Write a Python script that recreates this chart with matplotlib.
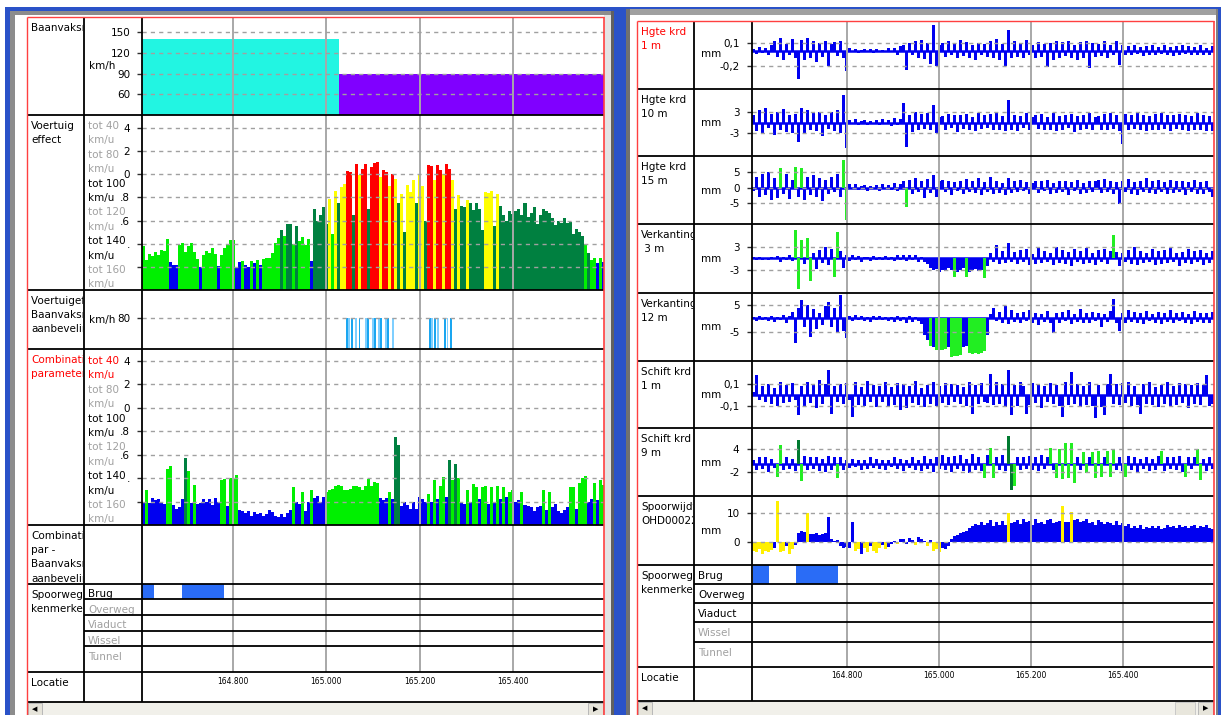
import numpy as np
import matplotlib
matplotlib.use("Agg")
import matplotlib.pyplot as plt
from matplotlib.patches import Rectangle
from matplotlib.transforms import Bbox

W, H = 1221, 715
plt.rcParams["font.family"] = ["DejaVu Sans"]

# ---------------------------------------------------------------- data
LOC_TICKS = [164.8, 165.0, 165.2, 165.4]
LOC_LABELS = ["164.800", "165.000", "165.200", "165.400"]
LEFT_XLIM = (164.604, 165.596)
RIGHT_XLIM = (164.5935, 165.5978)
LEFT_STEP = 0.00645    # km per sample, left window
RIGHT_STEP = 0.00652   # km per sample, right window

# Baanvaksnelheid per section (km/h)
SPEED_FROM = [164.604, 165.026]
SPEED_TO = [165.026, 165.596]
SPEED_KMH = [140, 90]

# Brug sections (km)
BRUG_FROM = [164.596, 164.690]
BRUG_TO = [164.630, 164.780]

# Voertuigeffect - Baanvaksnelheid aanbeveling (80 km/h marks)
AANB_KM = [165.044, 165.049, 165.055, 165.064, 165.071, 165.084, 165.090,
           165.100, 165.104, 165.113, 165.118, 165.128, 165.132, 165.142,
           165.222, 165.227, 165.234, 165.240, 165.254, 165.260, 165.267]
AANB_KMH = 80

# Voertuig effect, hundredths, with speed class per sample
VOERTUIG = [38, 26, 31, 29, 33, 30, 35, 34, 44, 24, 22, 22, 39, 41, 33, 38, 41, 33,
            27, 20, 30, 34, 32, 36, 31, 21, 30, 36, 40, 43, 43, 19, 24, 25, 22, 20,
            25, 23, 26, 22, 27, 28, 28, 32, 41, 45, 52, 47, 57, 57, 40, 55, 42, 46,
            39, 44, 25, 70, 60, 65, 72, 57, 79, 48, 86, 75, 89, 92, 103, 102, 65,
            109, 99, 105, 109, 70, 106, 110, 111, 98, 104, 102, 90, 100, 96, 75,
            83, 50, 91, 85, 95, 75, 99, 90, 60, 108, 107, 95, 108, 104, 100, 109,
            105, 95, 70, 82, 73, 72, 78, 75, 69, 75, 70, 52, 85, 84, 86, 55, 83,
            73, 65, 60, 68, 66, 68, 70, 65, 75, 63, 67, 72, 57, 65, 70, 68, 67, 62,
            56, 60, 58, 62, 58, 59, 48, 53, 50, 47, 40, 32, 26, 28, 23, 28, 24]
VOERTUIG_CLS = ("LLLLLLLLL" "BBB" "LLLLLL" "LB" "LLLLL" "B" "LLLLL" "BBLBBLB" "LBL"
                "LLLLL" "DLDDLD" "LLLLB" "DDDDD" "YLYDYY" "RRDRYRRDR" "RRYRRYRYD"
                "YDYYYDYYD" "RRYRRYRRY" "DYDDYDD" "DDDYYYD" "YDDDDDD" "DDDDDDD"
                "DDDDDDD" "DDDDDDD" "DLD" "LLBLB")

# Combinatie parameters, hundredths
COMBI = [20, 30, 19, 23, 21, 22, 20, 18, 48, 50, 17, 14, 15, 22, 57, 46, 19, 34,
         18, 19, 22, 20, 22, 17, 23, 20, 38, 39, 16, 40, 39, 43, 13, 12, 10, 12, 8,
         11, 9, 10, 8, 9, 13, 11, 8, 7, 9, 7, 10, 13, 32, 20, 18, 28, 12, 20, 30,
         23, 25, 20, 24, 28, 30, 31, 33, 34, 33, 30, 30, 31, 33, 33, 32, 30, 33,
         39, 33, 37, 36, 23, 21, 23, 28, 22, 75, 68, 16, 20, 17, 14, 20, 14, 24,
         22, 20, 26, 20, 38, 22, 33, 41, 24, 55, 38, 52, 40, 20, 18, 30, 20, 35,
         32, 22, 32, 33, 18, 32, 20, 33, 22, 32, 24, 28, 30, 20, 21, 28, 17, 16,
         15, 12, 15, 16, 30, 13, 28, 15, 18, 12, 10, 13, 15, 32, 32, 14, 36, 40,
         42, 20, 22, 36, 21, 38, 34]
COMBI_CLS = ("BLBBBBBB" "LL" "BBBB" "D" "L" "BL" "BBBBBBBB" "LL" "B" "LLL"
             "BBBBBBBBBBBBBBBBBB" "LB" "BLBBL" "BBBB" "LLL" "LLLLLLLLLLLLL" "LL"
             "BBBL" "B" "DD" "BBBBBB" "BBB" "LBLBLLBDL" "DL" "BBLBLLBLLBLBLBLBL"
             "LBBLBBBBBBLBLBBBBBB" "LLBLL" "LBBLBLL")

# Right window signals
HGTE_1M = [2, -4, 5, -3, 4, -6, 8, 12, -8, 17, -12, 9, -6, 15, -10, -37, 14, -12,
           16, -9, 12, -15, 10, -8, 13, -20, 9, 11, -7, 12, -10, -27, 3, -2, 2, -3,
           1, 2, -1, 2, -3, 2, -1, 1, -2, 3, -2, 4, -5, 6, 8, -25, 10, -6, 12, -9,
           14, -11, 10, -18, 33, -20, 8, 10, -8, 12, -6, 9, -10, 14, -7, 11, -9, 8,
           -12, 10, -6, 9, -8, 12, -10, 15, -12, 9, -20, 27, -10, 12, -8, 10, -9,
           14, -6, 8, -10, 11, -8, 9, -21, 10, -12, 13, -9, 11, -7, 12, -10, 8,
           -12, 11, -9, 12, -23, 10, -8, 9, -7, 12, -10, 8, -6, 13, -19, 7, -5, 6,
           -6, 8, -4, 5, -7, 6, -5, 7, -6, 5, -4, 8, -6, 5, -7, 6, -5, 7, -4, 6, -6,
           5, -5, 7, -6, 4, -5, 6]  # hundredths of mm
HGTE_10M = [20, -25, 35, -30, 40, -15, 25, -35, 30, -20, 38, -28, 20, -30, 25, -55,
            42, -30, 35, -20, 28, -25, 30, -38, 22, -18, 30, -25, 35, -30, 79, -74,
            8, -5, 10, -6, 4, 7, -8, 5, -4, 6, -7, 9, -5, 8, -10, 12, -8, 10, 55,
            -70, 20, -28, 30, -22, 25, -18, 28, -20, 50, -30, 15, 18, -20, 25, -15,
            22, -28, 20, -18, 25, -22, 15, -25, 28, -18, 20, -15, 25, -20, 30, -22,
            18, -25, 64, -20, 22, -25, 18, -15, 28, -20, 15, 20, -18, 25, -22, 15,
            -20, 28, -25, 18, -22, 20, -15, 25, -28, 18, -20, 22, -18, 26, -20, 15,
            18, -22, 25, -20, 28, -18, 22, -25, -60, 25, -20, 22, -18, 26, -22, 20,
            -25, 18, -20, 25, -22, 28, -18, 20, -24, 22, -18, 25, -20, 22, -24, 18,
            -20, 26, -22, 20, -25, 18, -24]  # tenths of mm
HGTE_15M = [-10, 35, -30, 45, -25, 50, -40, 30, -35, 64, -20, 45, -38, 25, 67, -30,
            64, -40, 35, -25, 40, -30, 30, -45, 25, -20, 35, -15, 45, -30, 89, -105,
            10, -6, 12, -8, 5, 9, -10, 6, -5, 8, -12, 10, -6, 9, -8, 14, -10, 12, 20,
            -65, 25, -20, 30, -15, 22, -35, 28, -18, 40, -30, 20, 25, -15, 20, -25,
            18, -12, 22, -20, 28, -15, 20, -18, 30, -25, 18, -15, 35, -20, 22, -18,
            15, -25, 30, -18, 20, -15, 25, -12, 18, -20, 15, 22, -18, 20, -12, 25,
            -20, 15, -18, 22, -15, 20, -25, 18, -12, 24, -20, 16, -18, 22, -15, 20,
            25, -18, 28, -15, 22, -20, 18, -54, 22, -15, 28, -20, 18, -25, 22, -16,
            30, -18, 20, -22, 25, -15, 18, -20, 26, -18, 22, -15, 20, -24, 18, -16,
            25, -20, 18, -22, 20, -15, -30]
HGTE_15M_GREEN = [9, 14, 16, 30, 31, 51]
VERK_3M = [3, -4, 5, -3, 2, -5, 4, -2, 6, -8, 5, -3, 10, -6, 74, -80, 48, -15, 53,
           -60, 15, -28, 22, -12, 30, -18, 25, -47, 70, 20, -25, 8, -6, 10, -4, 6,
           -8, 5, 3, -6, 7, -4, 5, -3, 6, -5, 4, -7, 8, -5, 10, -6, 8, -4, 9, -8, 5,
           -10, -15, -25, -30, -28, -35, -30, -32, -25, -30, -47, -34, -30, -26,
           -49, -35, -30, -28, -33, -30, -52, -20, 15, -10, 35, -15, 20, -12, 40,
           -8, 18, -15, 22, -10, 25, -18, 12, -15, 28, -12, 20, -10, 15, -18, 30,
           -12, 22, -15, 18, -20, 25, -10, 20, -15, 28, -12, 15, -18, 22, -10, 25,
           -15, 20, 61, 18, -20, 15, -10, 22, -15, 30, -18, 20, -12, 15, -10, 25,
           -18, 20, -15, 22, -12, 28, -10, 15, -20, 18, -12, 25, -15, 20, -10, 22,
           -18, 15, -12, 20]
VERK_3M_GREEN = [14, 15, 16, 18, 19, 27, 28, 67, 71, 77, 120]
VERK_12M = [5, -8, 10, -6, 4, -10, 8, -12, 6, -5, 12, -15, 8, 25, -92, 40, 68, -30,
            50, -67, 35, -40, 20, -25, 45, 62, -30, 40, -50, 87, -45, -73, 10, -8,
            12, -6, 8, -10, 5, -12, 8, -6, 10, -5, 7, -9, 6, -12, 8, -10, 5, -15, 8,
            -12, 6, -10, -20, -60, -80, -100, -104, -117, -115, -118, -112, -105,
            -141, -138, -140, -135, -105, -100, -129, -132, -128, -130, -126, -120,
            -60, 15, 40, -10, 25, -15, 45, -20, 30, -12, 20, -18, 25, -10, 30, -15,
            20, -25, 18, -12, 28, -15, -55, 22, -18, 25, -10, 30, -20, 15, -12, 35,
            -18, 20, -15, 25, -10, 22, -30, 18, -12, 28, 72, -15, -45, 20, -18, 30,
            -12, 25, -15, 22, -20, 28, -10, 18, -15, 25, -22, 20, -12, 30, -18, 22,
            -10, 25, -15, 18, -20, 28, -12, 20, -15, 22, -18, 25]
VERK_12M_GREEN = [59, 61, 62, 63, 64, 66, 67, 68, 69, 72, 73, 74, 75, 76, 77]
SCHIFT_1M = [3, 18, -5, 8, -6, 10, -8, 6, -10, 12, -7, 9, -6, 11, -5, -18, 8, -10,
             12, -7, 9, -12, 14, -8, 10, 23, -17, 8, -6, 10, -8, 11, -5, -20, 12, -9,
             7, -10, 13, -6, 9, -11, 8, -6, 12, -10, 7, -9, 11, -14, 10, -12, 8, -7,
             13, -9, 6, -11, 9, -8, 12, -10, 8, -7, 11, -9, 10, -6, 9, -8, 7, -10,
             12, -17, 9, -8, 11, -6, -7, 19, -9, 12, -8, 10, -11, 23, -18, 9, -10,
             12, 8, -17, -9, 11, -7, 10, -12, 8, -6, 11, -8, 9, -10, -20, 12, -9, 21,
             -8, 10, -11, 8, -9, 12, -10, -21, 9, -11, -18, 10, 19, -8, 10, -9, 11,
             -7, 12, -10, 8, -9, -17, 10, -8, 12, -9, 7, -11, 9, -8, 12, -10, 8, -9,
             11, -7, 10, -12, 9, -8, 11, -9, 9, 18, -10, -8]  # hundredths of mm
SCHIFT_9M = [10, -15, 20, -12, 18, -20, 15, -10, -32, 50, -15, 20, -12, 15, -18, 63,
             -45, 22, -15, 18, -12, 20, -18, 15, -20, 22, -15, 18, -37, 20, -15, 12,
             -10, 15, -8, 12, -15, 10, -12, 18, -10, 15, -12, 10, -15, 12, -8, 18,
             -12, 15, -18, 12, -10, 20, -15, 12, -18, 22, -12, 15, -20, 18, -12, 25,
             -15, 18, -20, 22, -12, 25, -18, 15, -22, 28, -15, 20, -18, -37, 25, 42,
             -37, 20, -15, 25, -18, 74, -67, -58, 20, -15, 18, -12, 22, -15, 20, -18,
             25, -12, 18, 42, -15, -37, 40, -39, 57, -37, 55, -50, 20, -15, 33, -24,
             18, 33, -37, 36, -32, 20, 36, -32, 37, -15, 20, -18, -32, 22, -15, 18,
             -20, 15, -12, 20, -18, 15, -15, 22, 36, -18, 20, -12, 18, -15, 22, -20,
             -32, 18, -12, 20, 39, -41, 15, -18, 20, -12]
SCHIFT_9M_GREEN = [8, 9, 16, 28, 77, 79, 80, 87, 99, 101, 102, 103, 104, 105, 106,
                   107, 110, 111, 113, 114, 115, 116, 118, 119, 120, 124, 136, 144,
                   148, 149]
SCHIFT_9M_DARK = [15, 85, 86]
SPOORWIJDTE = [-30, -35, -25, -40, -30, -35, -28, -20, 141, -35, -30, -15, -40, -25,
               -10, 30, 38, 35, 101, 28, 28, 30, 25, 27, 30, 85, 10, 5, 8, -15, -20,
               -18, -22, 70, -30, -25, -40, -20, -35, -15, -30, -38, -20, -10, -25,
               -18, -5, 5, -8, 10, 12, -5, 15, 8, -10, 18, 10, 5, -15, 8, -30, -25,
               -35, -20, -25, -15, 10, 20, 25, 30, 35, 40, 50, 55, 62, 58, 70, 60, 65,
               75, 55, 68, 60, 72, 58, 99, 65, 70, 75, 62, 80, 68, 72, 60, 78, 65, 70,
               62, 75, 80, 65, 70, 72, 125, 70, 68, 105, 75, 80, 68, 72, 78, 65, 70,
               60, 75, 68, 62, 70, 65, 58, 72, 60, 66, 55, 62, 50, 55, 48, 58, 45, 52,
               50, 56, 48, 54, 45, 50, 58, 52, 55, 48, 60, 52, 56, 50, 54, 60, 48, 55,
               52, 58, 50, 45]
SPOORWIJDTE_YELLOW = [0, 1, 2, 3, 4, 5, 6, 8, 9, 10, 12, 13, 18, 34, 35, 37, 38, 40,
                      41, 42, 44, 48, 54, 58, 60, 61, 62, 85, 103, 106]

# ---------------------------------------------------------------- colours
BLUE = "#0000F0"
LIME = "#00F000"
DARK = "#008040"
YELLOW = "#FFFF00"
RED = "#FF0000"
CLS_COLOR = {"B": BLUE, "L": LIME, "D": DARK, "Y": YELLOW, "R": RED}
GRAY_TXT = "#A0A0A0"
WIN_BLUE = "#2A52C8"

fig = plt.figure(figsize=(W / 100, H / 100), dpi=100)


def page_axes(z):
    a = fig.add_axes([0, 0, 1, 1], zorder=z)
    a.set_xlim(0, W)
    a.set_ylim(H, 0)
    a.axis("off")
    return a


bg = page_axes(0)
ov = page_axes(10)


def box(x0, y0, x1, y1, color, ec="none", lw=0, ax=bg):
    ax.add_patch(Rectangle((x0, y0), x1 - x0, y1 - y0, facecolor=color,
                           edgecolor=ec, linewidth=lw))


def frac(x0, y0, x1, y1):
    return [x0 / W, 1 - y1 / H, (x1 - x0) / W, (y1 - y0) / H]


def track(x0, y0, x1, y1, xlim, ylim=(0, 1)):
    ax = fig.add_axes(frac(x0, y0, x1, y1), zorder=1)
    ax.set_xlim(xlim)
    ax.set_ylim(ylim)
    for s in ax.spines.values():
        s.set_visible(False)
    ax.set_xticks(LOC_TICKS)
    ax.tick_params(axis="x", length=0, labelbottom=False)
    ax.xaxis.grid(True, color="#A8A8A8", linewidth=1.4)
    ax.set_yticks([])
    ax.set_axisbelow(False)
    return ax


def yticks(ax, ticks, labels, pad):
    ax.set_yticks(ticks, labels)
    ax.tick_params(axis="y", length=3.5, width=1, pad=pad, labelsize=7.5,
                   color="#303030")
    ax.yaxis.grid(True, color="#A0A0A0", linestyle=(0, (3, 3)), linewidth=1)


def label(x, y, s, color="black", clip=None, size=7.5, ha="left"):
    t = ov.text(x, y, s, color=color, fontsize=size, ha=ha, va="center", zorder=3)
    if clip is not None:
        cx0, cy0, cx1, cy1 = clip
        t.set_clip_box(Bbox.from_extents(cx0, H - cy1, cx1, H - cy0))
        t.set_clip_on(True)
    return t


def hline(y, x0, x1, color="black", lw=1.3):
    ov.plot([x0, x1], [y, y], color=color, linewidth=lw, zorder=4,
            solid_capstyle="butt")


def vline(x, y0, y1, color="black", lw=1.3):
    ov.plot([x, x], [y0, y1], color=color, linewidth=lw, zorder=4,
            solid_capstyle="butt")


# ---------------------------------------------------------------- window chrome
box(0, 0, W, H, "white")
box(5, 7, 614, 11, WIN_BLUE)
box(5, 7, 10, H, WIN_BLUE)
box(10, 11, 614, 15, "#8C8C8C")
box(10, 11, 15, H, "#8C8C8C")
box(604, 15, 611, H, "#E4E4E4")
box(611, 11, 614, H, "#606060")
box(614, 7, 626, H, WIN_BLUE)
box(614, 7, W, 9, WIN_BLUE)
box(626, 9, 1217, 15, "#A0A0A0")
box(626, 9, 630, H, "#707070")
box(1216, 9, 1218, H, "#808080")
box(1218, 7, W, H, WIN_BLUE)

# scrollbars
for sx0, sy0, sx1, b1, b2 in [(27, 702, 604, (28, 42), (588, 603)),
                              (637, 701, 1214, (638, 652), (1198, 1213))]:
    box(sx0, sy0, sx1, H, "#F1F0EA")
    box(b1[0], sy0 + 1, b1[1], H, "#E6E4DA", ec="#B8B8B8", lw=0.7)
    box(b2[0], sy0 + 1, b2[1], H, "#E6E4DA", ec="#B8B8B8", lw=0.7)
    label((b1[0] + b1[1]) / 2, sy0 + 7, "\u25c0", size=5, ha="center")
    label((b2[0] + b2[1]) / 2, sy0 + 7, "\u25b6", size=5, ha="center")
box(1175, 702, 1195, H, "#E8E6DC", ec="#C8C8C8", lw=0.7)

# ---------------------------------------------------------------- left window
LX0, LC1, LC2, LX1 = 27, 84, 142, 604
lx = lambda n: LEFT_XLIM[0] + (np.arange(n) + 0.5) * LEFT_STEP

ax = track(LC2, 17, LX1, 115, LEFT_XLIM, (30, 171.7))
ax.bar(SPEED_FROM, SPEED_KMH, width=np.subtract(SPEED_TO, SPEED_FROM), align="edge",
       color=["#22F5E2", "#8000FF"], linewidth=0)
yticks(ax, [150, 120, 90, 60], ["150", "120", "90", "60"], pad=5)

VE_TICKS = [1.4, 1.2, 1.0, 0.8, 0.6, 0.4, 0.2]
VE_LABELS = ["4", "2", "0", ".8", ".6", ".", ""]

ax = track(LC2, 115, LX1, 290, LEFT_XLIM, (0, 1.513))
ax.bar(lx(len(VOERTUIG)), np.array(VOERTUIG) / 100, width=LEFT_STEP,
       color=[CLS_COLOR[c] for c in VOERTUIG_CLS[:len(VOERTUIG)]], linewidth=0)
yticks(ax, VE_TICKS, VE_LABELS, pad=5)

ax = track(LC2, 290, LX1, 349, LEFT_XLIM, (0, 152))
ax.bar(AANB_KM, [AANB_KMH] * len(AANB_KM), width=0.0042,
       color=["#1AA6F0", "#7FCFFF"] * len(AANB_KM), linewidth=0)
yticks(ax, [80], ["80"], pad=5)

ax = track(LC2, 349, LX1, 525, LEFT_XLIM, (0, 1.50))
ax.bar(lx(len(COMBI)), np.array(COMBI) / 100, width=LEFT_STEP,
       color=[CLS_COLOR[c] for c in COMBI_CLS[:len(COMBI)]], linewidth=0)
yticks(ax, VE_TICKS, VE_LABELS, pad=5)

track(LC2, 525, LX1, 584, LEFT_XLIM)
ax = track(LC2, 584, LX1, 599, LEFT_XLIM)
ax.bar(BRUG_FROM, 1, width=np.subtract(BRUG_TO, BRUG_FROM), align="edge",
       color="#2A6CF6", linewidth=0)
track(LC2, 599, LX1, 672, LEFT_XLIM)

ax = fig.add_axes(frac(LC2, 672, LX1, 702), zorder=1)
ax.set_xlim(LEFT_XLIM)
for s in ax.spines.values():
    s.set_visible(False)
ax.set_yticks([])
ax.set_xticks(LOC_TICKS, LOC_LABELS)
ax.tick_params(axis="x", length=0, bottom=False, labelbottom=False, labeltop=True,
               pad=-10, labelsize=5.5)

# frame lines
vline(LC1, 17, 702)
vline(LC2, 17, 702)
for y in [115, 290, 349, 525, 584, 672, 702]:
    hline(y, LX0, LX1)
for y in [599, 615, 631, 646]:
    hline(y, LC1, LX1)
vline(LX0, 17, H, color="#FF4040", lw=1)
vline(LX1, 17, H, color="#FF4040", lw=1.2)
hline(17, LX0, LX1, color="#FF4040", lw=1)

for lines, y0, y1, col in [(["Baanvaksnelheid"], 17, 115, "black"),
                           (["Voertuig", "effect"], 115, 290, "black"),
                           (["Voertuigeffect -", "Baanvaksnelheid", "aanbeveling"], 290, 349, "black"),
                           (["Combinatie", "parameters"], 349, 525, RED),
                           (["Combinatie", "par -", "Baanvaksnelheid", "aanbeveling"], 525, 584, "black"),
                           (["Spoorweg", "kenmerken"], 584, 672, "black"),
                           (["Locatie"], 672, 702, "black")]:
    for k, s in enumerate(lines):
        label(31, y0 + 11 + 14.2 * k, s, color=col, clip=(LX0 + 1, y0 + 1, LC1 - 1, y1 - 1))

label(89, 66, "km/h")
label(89, 320, "km/h")
LEG_TEXT = ["tot 40", "km/u", "tot 80", "km/u", "tot 100", "km/u",
            "tot 120", "km/u", "tot 140", "km/u", "tot 160", "km/u"]
LEG_VE = [GRAY_TXT] * 4 + ["black"] * 2 + [GRAY_TXT] * 2 + ["black"] * 2 + [GRAY_TXT] * 2
LEG_CP = [RED] * 2 + [GRAY_TXT] * 2 + ["black"] * 2 + [GRAY_TXT] * 2 + ["black"] * 2 + [GRAY_TXT] * 2
for k, s in enumerate(LEG_TEXT):
    label(88, 126 + 14.4 * k, s, color=LEG_VE[k])
    label(88, 361 + 14.4 * k, s, color=LEG_CP[k])
for s, y, col in [("Brug", 594, "black"), ("Overweg", 610, GRAY_TXT),
                  ("Viaduct", 625, GRAY_TXT), ("Wissel", 641, GRAY_TXT),
                  ("Tunnel", 657, GRAY_TXT)]:
    label(88, y, s, color=col)

# ---------------------------------------------------------------- right window
RX0, RC1, RC2, RX1 = 637, 694, 752, 1214
rx = lambda n: RIGHT_XLIM[0] + (np.arange(n) + 0.5) * RIGHT_STEP


def signal(y0, y1, vals, scale, ylim, ticks, labels, green=(), dark=(), yellow=(),
           core=True):
    a = track(RC2, y0, RX1, y1, RIGHT_XLIM, ylim)
    v = np.array(vals) / scale
    x = rx(len(v))
    if core:
        a.axhline(0, color=BLUE, linewidth=1.8, zorder=1.3)
    a.bar(x, v, width=RIGHT_STEP, color=BLUE, linewidth=0, zorder=1.2)
    for idx, c in [(green, "#22EE22"), (dark, "#007A30"), (yellow, "#FFF000")]:
        idx = [i for i in idx if i < len(v)]
        if idx:
            a.bar(x[idx], v[idx], width=RIGHT_STEP * 0.9, color=c, linewidth=0,
                  zorder=1.8)
    yticks(a, ticks, labels, pad=5.5)
    return a


signal(21, 89, HGTE_1M, 100, (-0.50, 0.387), [0.1, -0.2], ["0,1", "-0,2"])
signal(89, 156, HGTE_10M, 10, (-9.57, 9.57), [3, -3], ["3", "-3"])
signal(156, 224, HGTE_15M, 10, (-11.9, 10.3), [5, 0, -5], ["5", "0", "-5"],
       green=HGTE_15M_GREEN)
signal(224, 293, VERK_3M, 10, (-9.0, 9.0), [3, -3], ["3", "-3"], green=VERK_3M_GREEN)
signal(293, 361, VERK_12M, 10, (-15.7, 9.4), [5, -5], ["5", "-5"], green=VERK_12M_GREEN)
signal(361, 428, SCHIFT_1M, 100, (-0.30, 0.309), [0.1, -0.1], ["0,1", "-0,1"])
signal(428, 496, SCHIFT_9M, 10, (-8.3, 9.5), [4, -2], ["4", "-2"],
       green=SCHIFT_9M_GREEN, dark=SCHIFT_9M_DARK)
signal(496, 565, SPOORWIJDTE, 10, (-7.9, 15.9), [10, 0], ["10", "0"],
       yellow=SPOORWIJDTE_YELLOW, core=False)

ax = track(RC2, 565, RX1, 584, RIGHT_XLIM)
ax.bar(BRUG_FROM, 1, width=np.subtract(BRUG_TO, BRUG_FROM), align="edge",
       color="#2A6CF6", linewidth=0)
track(RC2, 584, RX1, 667, RIGHT_XLIM)

ax = fig.add_axes(frac(RC2, 667, RX1, 701), zorder=1)
ax.set_xlim(RIGHT_XLIM)
for s in ax.spines.values():
    s.set_visible(False)
ax.set_yticks([])
ax.set_xticks(LOC_TICKS, LOC_LABELS)
ax.tick_params(axis="x", length=0, bottom=False, labelbottom=False, labeltop=True,
               pad=-9, labelsize=5.5)

vline(RC1, 21, 701)
vline(RC2, 21, 701)
for y in [89, 156, 224, 293, 361, 428, 496, 565, 667, 701]:
    hline(y, RX0, RX1)
for y in [584, 603, 622, 642]:
    hline(y, RC1, RX1)
vline(RX0, 21, H, color="#FF4040", lw=1)
vline(RX1, 21, H, color="#FF4040", lw=1.2)
hline(21, RX0, RX1, color="#FF4040", lw=1)

for lines, y0, y1, col in [(["Hgte krd", "1 m"], 21, 89, RED),
                           (["Hgte krd", "10 m"], 89, 156, "black"),
                           (["Hgte krd", "15 m"], 156, 224, "black"),
                           (["Verkanting", " 3 m"], 224, 293, "black"),
                           (["Verkanting", "12 m"], 293, 361, "black"),
                           (["Schift krd", "1 m"], 361, 428, "black"),
                           (["Schift krd", "9 m"], 428, 496, "black"),
                           (["Spoorwijdte", "OHD000224"], 496, 565, "black"),
                           (["Spoorweg", "kenmerken"], 565, 667, "black"),
                           (["Locatie"], 667, 701, "black")]:
    for k, s in enumerate(lines):
        label(641, y0 + 11 + 14.2 * k, s, color=col, clip=(RX0 + 1, y0 + 1, RC1 - 1, y1 - 1))

for y in [54, 123, 191, 259, 327, 395, 463, 531]:
    label(701, y, "mm")
for s, y, col in [("Brug", 576, "black"), ("Overweg", 595, "black"),
                  ("Viaduct", 614, "black"), ("Wissel", 633, GRAY_TXT),
                  ("Tunnel", 653, GRAY_TXT)]:
    label(698, y, s, color=col)

fig.savefig("out.png", dpi=100)
